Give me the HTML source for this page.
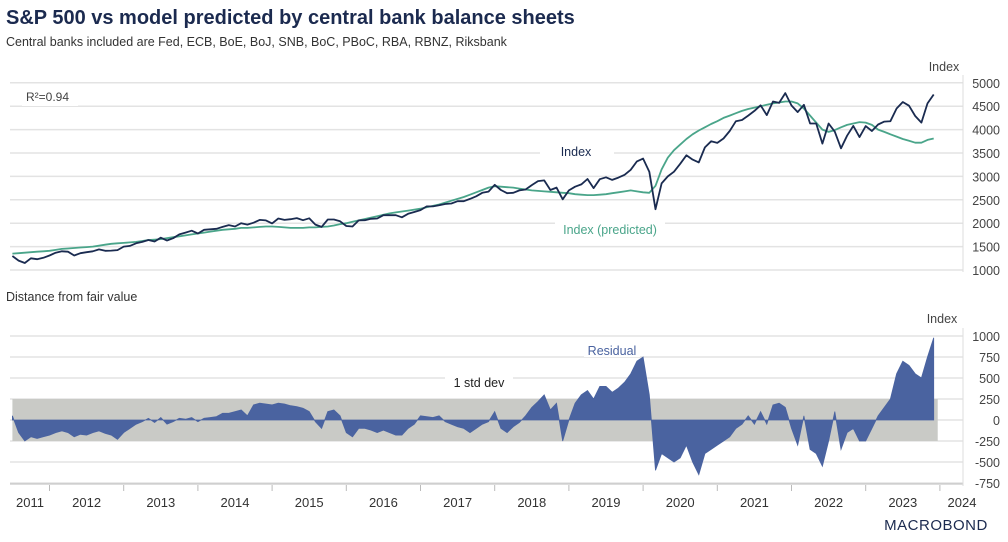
<!DOCTYPE html>
<html><head><meta charset="utf-8"><style>
body{margin:0;background:#fff;font-family:"Liberation Sans",sans-serif}
svg{display:block}
</style></head><body>
<svg id="chart" width="1008" height="542" viewBox="0 0 1008 542">
<text x="6" y="24" font-size="20" font-weight="bold" fill="#1b2a4f">S&amp;P 500 vs model predicted by central bank balance sheets</text>
<text x="6" y="46" font-size="12.5" fill="#333">Central banks included are Fed, ECB, BoE, BoJ, SNB, BoC, PBoC, RBA, RBNZ, Riksbank</text>
<g id="gtop"></g>
<g id="gbot"></g>
<text x="944" y="71" font-size="12.5" fill="#444" text-anchor="middle">Index</text>
<text x="942" y="323" font-size="12.5" fill="#444" text-anchor="middle">Index</text>
<rect x="22" y="86" width="56" height="20" fill="#fff"/>
<text x="26" y="101" font-size="12" fill="#444">R²=0.94</text>
<text x="6" y="301" font-size="12.5" fill="#333">Distance from fair value</text>
<text x="936" y="530" font-size="15" fill="#1b2a4f" text-anchor="middle" letter-spacing="0.5">MACROBOND</text>
</svg>
<script>
const years=["2011","2012","2013","2014","2015","2016","2017","2018","2019","2020","2021","2022","2023","2024"];
const topTicks=[1000,1500,2000,2500,3000,3500,4000,4500,5000];
const botTicks=[-750,-500,-250,0,250,500,750,1000];
const indexVals=[1300,1200,1150,1250,1230,1260,
1310,1370,1400,1390,1310,1360,1380,1400,1440,1410,1415,1425,
1500,1515,1570,1600,1640,1610,1690,1630,1680,1760,1800,1840,
1780,1860,1870,1880,1920,1960,1930,2000,1970,2010,2070,2060,
1995,2100,2070,2085,2110,2065,2105,1970,1920,2080,2080,2040,
1940,1930,2060,2065,2095,2100,2170,2170,2170,2125,2200,2240,
2280,2360,2360,2385,2410,2420,2470,2470,2520,2575,2650,2675,
2820,2710,2640,2650,2700,2720,2815,2900,2915,2710,2760,2510,
2700,2780,2830,2945,2750,2940,2980,2925,2975,3035,3140,3320,
3380,3100,2300,2850,3000,3100,3270,3450,3360,3300,3620,3750,
3715,3810,3970,4180,4205,4300,4400,4520,4310,4600,4570,4780,
4515,4375,4530,4130,4130,3700,4130,3955,3600,3870,4080,3840,
4075,3970,4110,4170,4180,4450,4590,4510,4290,4150,4560,4750];
const predVals=[1350,1360,1370,1380,1390,1400,
1410,1430,1450,1460,1470,1480,1490,1500,1520,1540,1560,1570,
1580,1590,1600,1620,1640,1650,1660,1680,1700,1720,1740,1760,
1780,1800,1820,1840,1860,1870,1880,1900,1900,1910,1920,1930,
1930,1920,1910,1900,1900,1900,1910,1910,1920,1930,1950,1980,
2000,2030,2060,2090,2120,2150,2180,2210,2230,2250,2270,2290,
2310,2340,2370,2400,2440,2480,2520,2560,2610,2660,2710,2760,
2790,2780,2770,2760,2740,2720,2700,2690,2680,2670,2660,2650,
2640,2620,2610,2600,2600,2610,2620,2640,2660,2680,2700,2680,
2660,2650,2800,3150,3400,3560,3680,3800,3900,3980,4050,4120,
4180,4250,4300,4350,4400,4440,4470,4500,4530,4560,4580,4600,
4600,4560,4450,4300,4150,4000,3950,3990,4050,4100,4130,4160,
4150,4100,4000,3950,3900,3850,3800,3760,3720,3720,3780,3810];
const residVals=[50,-150,-250,-200,-220,-200,
-180,-150,-130,-150,-200,-170,-180,-150,-130,-160,-180,-230,
-150,-100,-50,-20,20,-30,30,-50,-20,20,10,30,
-20,20,30,40,80,80,100,120,50,180,200,190,
180,200,190,170,160,140,100,-20,-100,100,120,50,
-150,-200,-100,-100,-120,-150,-120,-150,-180,-180,-100,-50,
50,40,30,50,-20,-50,-80,-100,-150,-100,-50,-20,
100,-100,-150,-80,-30,50,150,220,300,120,200,-250,
0,200,300,350,250,400,400,330,380,450,550,700,
750,300,-600,-400,-450,-500,-450,-300,-500,-650,-400,-350,
-300,-250,-200,-100,-50,50,-50,100,-50,180,200,150,
-100,-300,50,-350,-400,-550,-250,100,-350,-150,-100,-250,
-250,-100,50,150,250,550,700,650,550,500,750,980];
const stdDev=250;
const NS="http://www.w3.org/2000/svg";
function X(i){const t=2011.5+i/12;return 49.5+(t-2012)*74.2;}
function YT(v){return 270-(v-1000)/500*23.4;}
function YB(v){return 420-v/250*21;}
function mk(tag,attrs,parent){const e=document.createElementNS(NS,tag);for(const k in attrs)e.setAttribute(k,attrs[k]);parent.appendChild(e);return e;}
const gTop=document.getElementById('gtop'),gBot=document.getElementById('gbot');
topTicks.forEach(v=>{
  const l=mk('line',{x1:10,x2:963,y1:YT(v),y2:YT(v),stroke:'#e3e3e3','stroke-width':1.5},gTop);
  
  
  const t=mk('text',{x:1000,y:YT(v)+5,'font-size':12.5,fill:'#444','text-anchor':'end'},gTop);
  t.textContent=v;
  
  
});
const ax1=mk('line',{x1:963,x2:963,y1:75,y2:272,stroke:'#ddd'},gTop);


function line(vals,col,name){
  const d=vals.map((v,i)=>(i?'L':'M')+X(i).toFixed(1)+','+YT(v).toFixed(1)).join('');
  const p=mk('path',{d:d,fill:'none',stroke:col,'stroke-width':1.8,'stroke-linejoin':'round'},gTop);
  
  
}
line(predVals,'#4aa58a','predicted-line');
line(indexVals,'#1a2b50','index-line');
const bg1=mk('rect',{x:540,y:141,width:74,height:18,fill:'#fff'},gTop);


const l1=mk('text',{x:576,y:156,'font-size':12.5,fill:'#1a2b50','text-anchor':'middle'},gTop);l1.textContent='Index';


const bg2=mk('rect',{x:555,y:220,width:110,height:18,fill:'#fff'},gTop);


const l2=mk('text',{x:610,y:234,'font-size':12.5,fill:'#4aa58a','text-anchor':'middle'},gTop);l2.textContent='Index (predicted)';


botTicks.forEach(v=>{
  const l=mk('line',{x1:10,x2:963,y1:YB(v),y2:YB(v),stroke:'#e3e3e3','stroke-width':1.5},gBot);
  
  
  const t=mk('text',{x:1000,y:YB(v)+5,'font-size':12.5,fill:'#444','text-anchor':'end'},gBot);
  t.textContent=v;
  
  
});
const band=mk('rect',{x:X(0),y:YB(stdDev),width:X(residVals.length-1)-X(0)+4,height:YB(-stdDev)-YB(stdDev),fill:'#c9cac6'},gBot);


let d='M'+X(0)+','+YB(0);
residVals.forEach((v,i)=>{d+='L'+X(i).toFixed(1)+','+YB(v).toFixed(1);});
d+='L'+X(residVals.length-1)+','+YB(0)+'Z';
const area=mk('path',{d:d,fill:'#4a63a0',stroke:'#4a63a0','stroke-width':0.8},gBot);


const xax=mk('line',{x1:10,x2:963,y1:YB(-750)+1,y2:YB(-750)+1,stroke:'#bbb'},gBot);


const ax2=mk('line',{x1:963,x2:963,y1:328,y2:486,stroke:'#ddd'},gBot);


years.forEach((y)=>{
  const yr=+y;
  if(yr>2011){
    const tx=49.5+(yr-2012)*74.2;
    const tk=mk('line',{x1:tx,x2:tx,y1:485,y2:491,stroke:'#bbb'},gBot);
    
    
  }
  let cx=49.5+(yr-2012+0.5)*74.2;
  if(yr===2011)cx=30;
  if(yr===2024)cx=962;
  const t=mk('text',{x:cx,y:507,'font-size':13,fill:'#333','text-anchor':'middle'},gBot);
  t.textContent=y;
  
  
});
const rb=mk('rect',{x:584,y:341,width:56,height:16,fill:'#fff'},gBot);


const rl=mk('text',{x:612,y:355,'font-size':12.5,fill:'#4a63a0','text-anchor':'middle'},gBot);rl.textContent='Residual';


const sb=mk('rect',{x:445,y:373,width:68,height:16,fill:'#fff'},gBot);


const sl=mk('text',{x:479,y:387,'font-size':12.5,fill:'#222','text-anchor':'middle'},gBot);sl.textContent='1 std dev';


</script>
</body></html>
